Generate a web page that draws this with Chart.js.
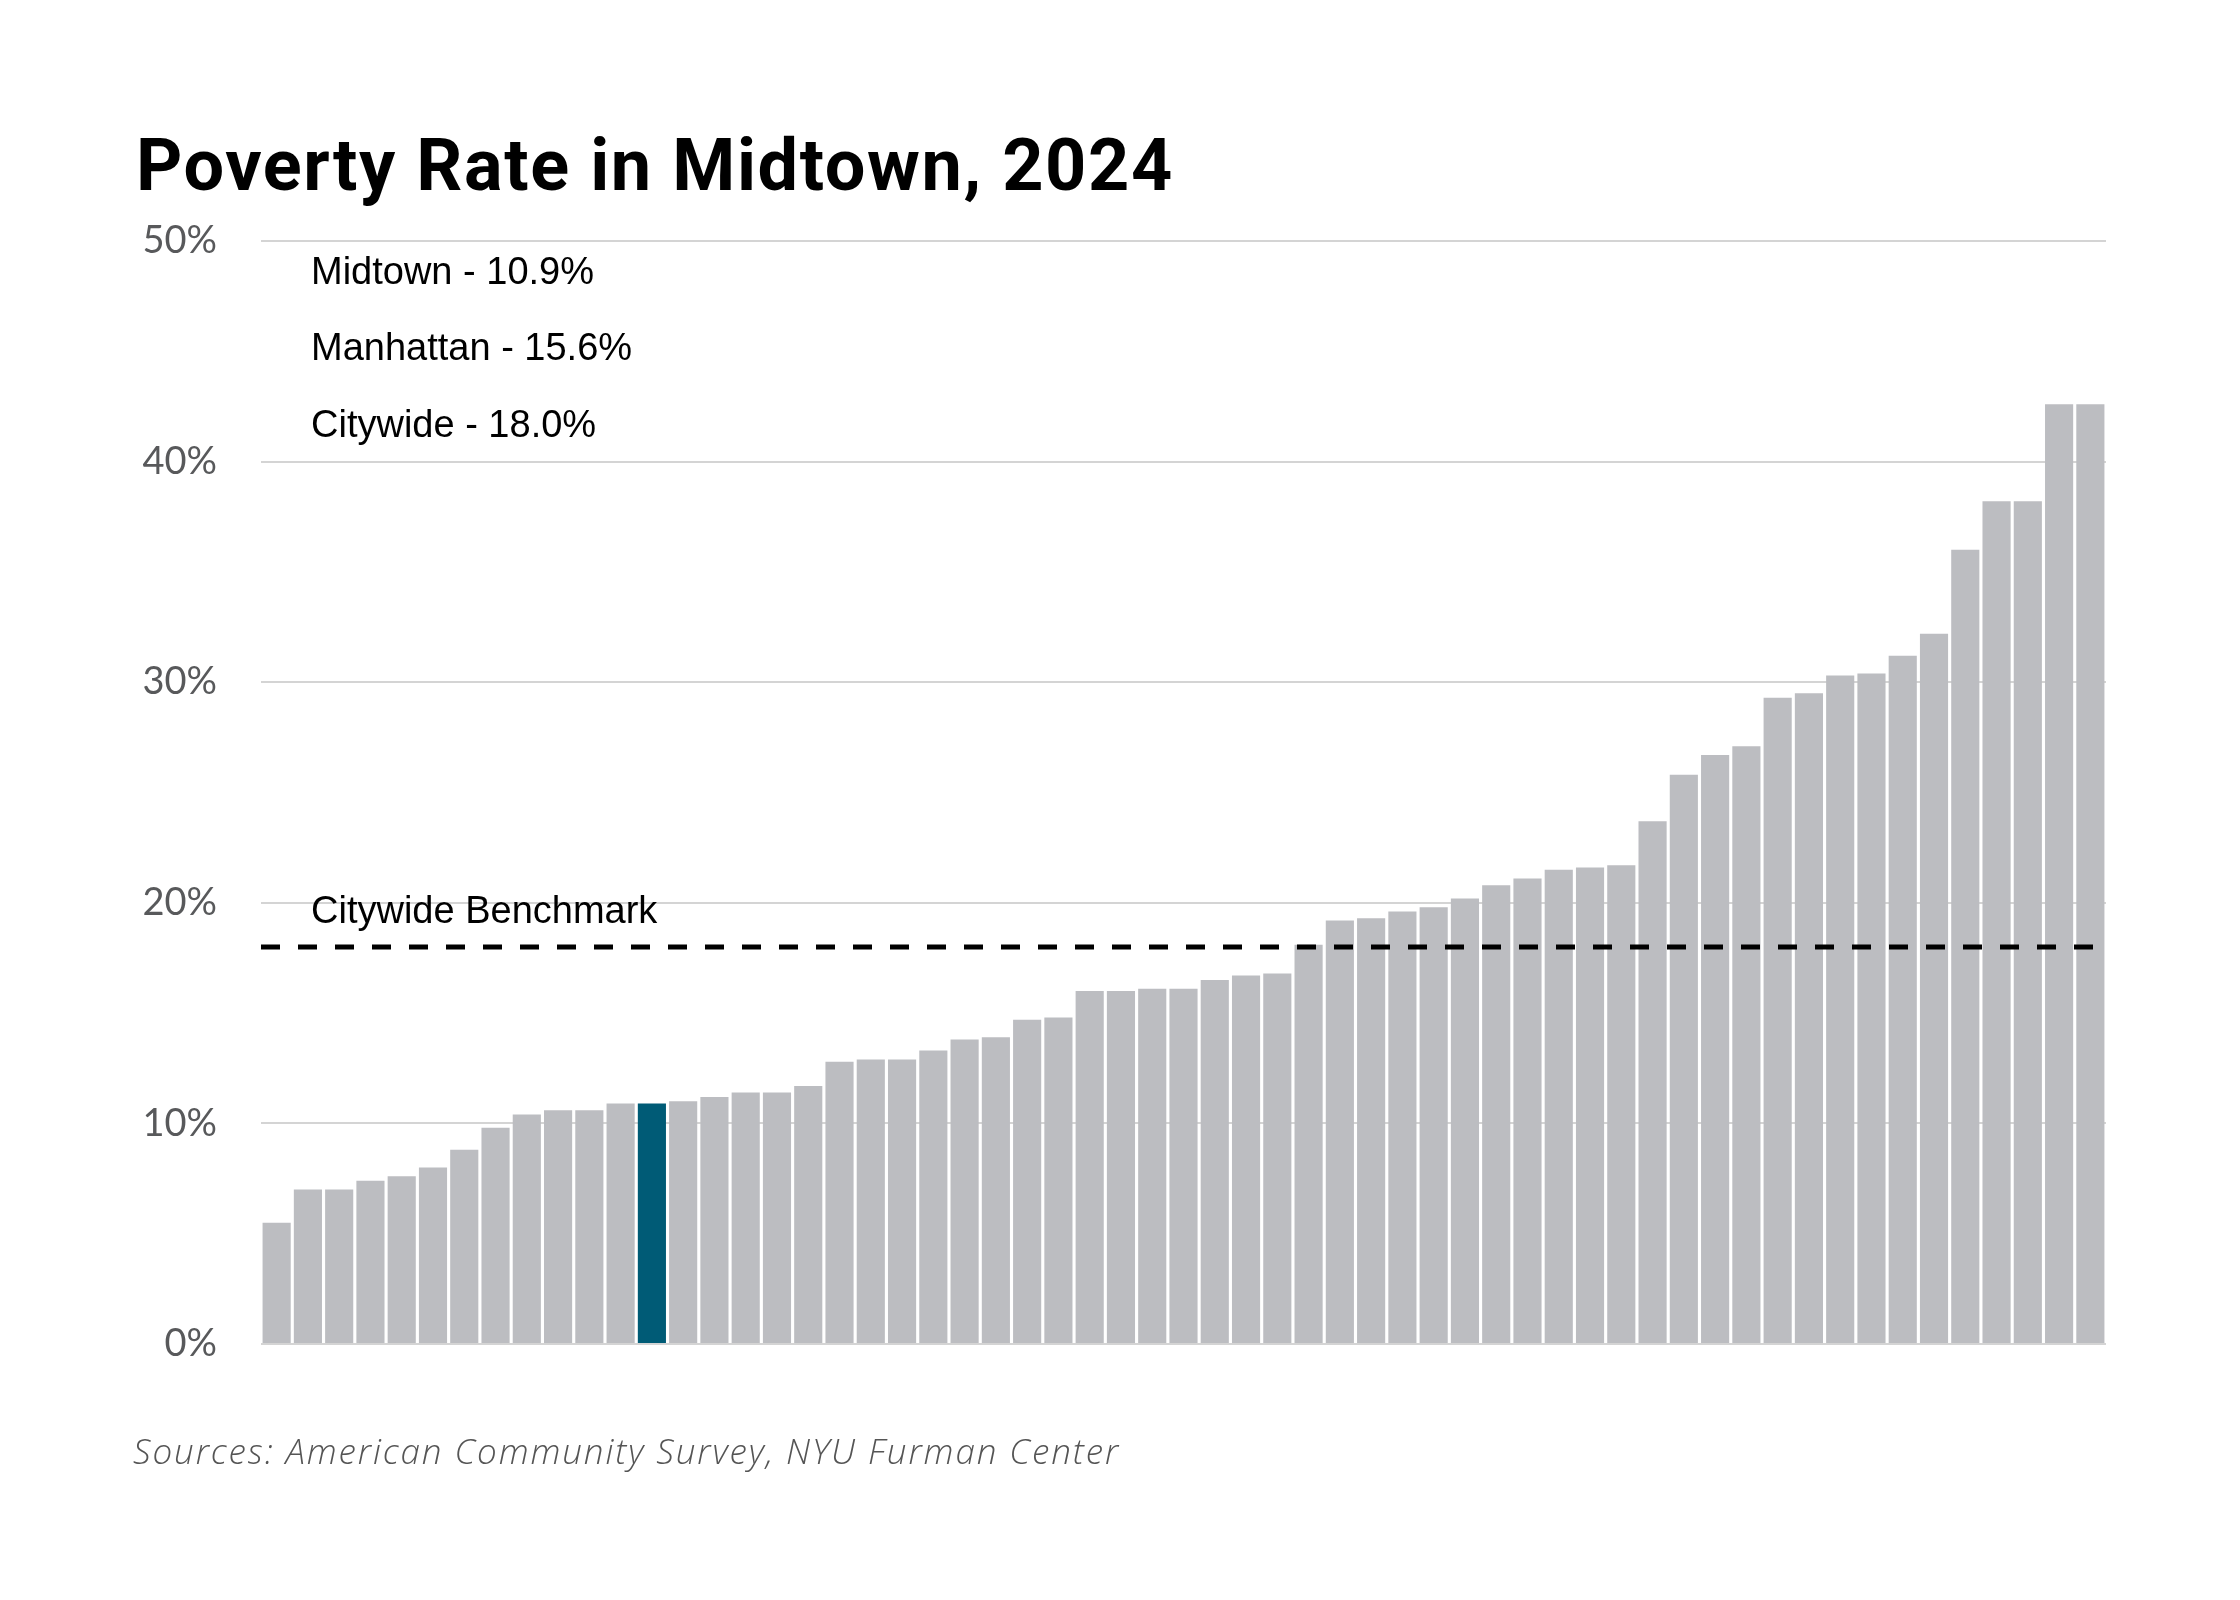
<!DOCTYPE html>
<html>
<head>
<meta charset="utf-8">
<title>Poverty Rate in Midtown, 2024</title>
<script src="https://cdn.jsdelivr.net/npm/chart.js@4.4.1/dist/chart.umd.min.js"></script>
<style>
    html, body { margin: 0; padding: 0; background: #ffffff; }
    body { width: 2240px; height: 1600px; position: relative; overflow: hidden; }
    #title {
        position: absolute; left: 136px; top: 130px;
        font: 700 72px/1 "Roboto", sans-serif; letter-spacing: 1.6px;
        color: #000000; white-space: nowrap;
    }
    #chartBox { position: absolute; left: 0; top: 0; width: 2240px; height: 1600px; }
    #source {
        position: absolute; left: 133px; top: 1433px;
        font: italic 300 35px/1 "Open Sans", sans-serif; letter-spacing: 1.9px;
        color: #555555; white-space: nowrap;
    }
</style>
</head>
<body>
<div id="title">Poverty Rate in Midtown, 2024</div>
<div id="chartBox"><canvas id="povertyChart"></canvas></div>
<div id="source">Sources: American Community Survey, NYU Furman Center</div>

<script>
// Poverty rate (%) of each community district, sorted low to high
const povertyRates = [
    5.5, 7.0, 7.0, 7.4, 7.6, 8.0, 8.8, 9.8, 10.4, 10.6,
    10.6, 10.9, 10.9, 11.0, 11.2, 11.4, 11.4, 11.7, 12.8, 12.9,
    12.9, 13.3, 13.8, 13.9, 14.7, 14.8, 16.0, 16.0, 16.1, 16.1,
    16.5, 16.7, 16.8, 18.1, 19.2, 19.3, 19.6, 19.8, 20.2, 20.8,
    21.1, 21.5, 21.6, 21.7, 23.7, 25.8, 26.7, 27.1, 29.3, 29.5,
    30.3, 30.4, 31.2, 32.2, 36.0, 38.2, 38.2, 42.6, 42.6
];
const districtRanks = povertyRates.map((v, i) => String(i + 1));
const highlightIndex = 12; // Midtown

const summaryNames = ['Midtown', 'Manhattan', 'Citywide'];
const summaryRates = [10.9, 15.6, 18.0];
const citywideRate = 18.0;

const yTicks = [0, 10, 20, 30, 40, 50];

const barGrey = '#bcbdc1';
const barTeal = '#005b76';

// Summary text + citywide benchmark line
const annotationPlugin = {
    id: 'annotations',
    afterDatasetsDraw(chart) {
        const ctx = chart.ctx;
        const area = chart.chartArea;
        const y = chart.scales.y.getPixelForValue(citywideRate);

        ctx.save();
        ctx.strokeStyle = '#000000';
        ctx.lineWidth = 5;
        ctx.setLineDash([19, 18]);
        ctx.beginPath();
        ctx.moveTo(area.left, y);
        ctx.lineTo(area.right, y);
        ctx.stroke();
        ctx.setLineDash([]);

        ctx.fillStyle = '#000000';
        ctx.font = '38px "Liberation Sans", Arial, sans-serif';
        ctx.textAlign = 'left';
        ctx.textBaseline = 'middle';
        ctx.fillText('Citywide Benchmark', area.left + 50, y - 34);

        const offsets = [33, 109, 186];
        summaryNames.forEach((name, i) => {
            ctx.fillText(name + ' - ' + summaryRates[i].toFixed(1) + '%', area.left + 50, area.top + offsets[i]);
        });
        ctx.restore();
    }
};

const ctx = document.getElementById('povertyChart').getContext('2d');
new Chart(ctx, {
    type: 'bar',
    data: {
        labels: districtRanks,
        datasets: [{
            data: povertyRates,
            backgroundColor: povertyRates.map((v, i) => i === highlightIndex ? barTeal : barGrey),
            borderWidth: 0,
            barPercentage: 0.9,
            categoryPercentage: 1.0
        }]
    },
    options: {
        responsive: true,
        maintainAspectRatio: false,
        devicePixelRatio: 1,
        animation: false,
        layout: {
            padding: { left: 0, right: 134, top: 241, bottom: 256 }
        },
        plugins: {
            legend: { display: false },
            tooltip: { enabled: false },
            title: { display: false }
        },
        scales: {
            x: {
                display: false,
                grid: { display: false }
            },
            y: {
                min: 0,
                max: 50,
                afterBuildTicks(scale) {
                    scale.ticks = yTicks.map(v => ({ value: v }));
                },
                afterFit(scale) {
                    scale.width = 261;
                },
                grid: {
                    color: '#d4d4d4',
                    lineWidth: 2,
                    drawTicks: false
                },
                border: { display: false },
                ticks: {
                    padding: 44,
                    color: '#58595b',
                    font: { family: 'Lato', size: 38 },
                    callback: v => v + '%'
                }
            }
        }
    },
    plugins: [annotationPlugin]
});
</script>
</body>
</html>
